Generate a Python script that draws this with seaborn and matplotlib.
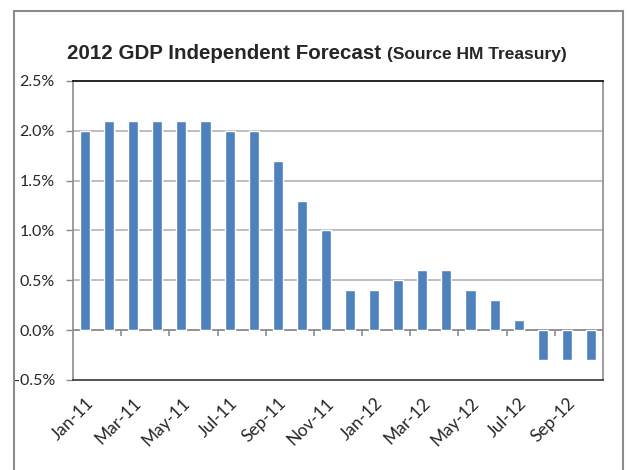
import numpy as np
import pandas as pd
import seaborn as sns
import matplotlib.pyplot as plt
from matplotlib.patches import Rectangle
from matplotlib.ticker import FuncFormatter

# Monthly forecast values (percent)
months = ["Jan-11", "Feb-11", "Mar-11", "Apr-11", "May-11", "Jun-11",
          "Jul-11", "Aug-11", "Sep-11", "Oct-11", "Nov-11", "Dec-11",
          "Jan-12", "Feb-12", "Mar-12", "Apr-12", "May-12", "Jun-12",
          "Jul-12", "Aug-12", "Sep-12", "Oct-12"]
forecast = [2.0, 2.1, 2.1, 2.1, 2.1, 2.1,
            2.0, 2.0, 1.7, 1.3, 1.0, 0.4,
            0.4, 0.5, 0.6, 0.6, 0.4, 0.3,
            0.1, -0.3, -0.3, -0.3]
y_ticks = [-0.5, 0.0, 0.5, 1.0, 1.5, 2.0, 2.5]

df = pd.DataFrame({"month": months, "forecast": forecast})

sns.set_style("white")
plt.rcParams["font.family"] = ["Lato", "DejaVu Sans"]

fig = plt.figure(figsize=(6.32, 4.70), dpi=100)
ax = fig.add_axes([73 / 632, 1 - 380 / 470, 530 / 632, 299 / 470])

sns.barplot(data=df, x="month", y="forecast", order=months, color="#4F81BD",
            saturation=1, width=0.42, ax=ax)

ax.set_xlim(-0.5, len(months) - 0.5)
ax.set_ylim(-0.5, 2.5)
ax.set_yticks(y_ticks)
ax.yaxis.set_major_formatter(FuncFormatter(lambda v, p: f"{v:.1f}%"))
for v in y_ticks[1:-1]:
    ax.axhline(v, color="#b3b3b3", lw=1.2, zorder=0)
ax.axhline(0, color="#8c8c8c", lw=1.2, zorder=0.5)

# tick marks on the zero line between every second month
ax.vlines(np.arange(1.5, len(months), 2), -0.055, 0, color="#8c8c8c", lw=1.2)

shown = list(range(0, len(months), 2))
ax.set_xticks(shown)
ax.set_xticklabels([months[i] for i in shown], rotation=45, ha="right",
                   rotation_mode="anchor", fontsize=12.5)
ax.tick_params(axis="x", length=0, pad=11)
ax.tick_params(axis="y", length=5, width=1, color="#8c8c8c", direction="out",
               labelsize=11.5, pad=8, left=True)
ax.set_xlabel("")
ax.set_ylabel("")

ax.spines["top"].set_color("black")
ax.spines["bottom"].set_color("#333333")
ax.spines["left"].set_color("#8c8c8c")
ax.spines["right"].set_color("#8c8c8c")
for s in ax.spines.values():
    s.set_linewidth(1.2)

# outer chart frame
fig.patches.append(Rectangle((14 / 632, -0.05), 609 / 632, 1.05 - 11 / 470,
                             transform=fig.transFigure, fill=False,
                             edgecolor="#8c8c8c", lw=1.5))


def fit_text(x, y, s, size, target_px):
    t = fig.text(x, y, s, fontsize=size, fontweight="bold",
                 family=["Liberation Sans", "DejaVu Sans"],
                 fontstretch="condensed", va="baseline")
    fig.canvas.draw()
    w = t.get_window_extent().width
    if w > target_px:
        t.set_fontsize(size * target_px / w)
        fig.canvas.draw()
    return t


t1 = fit_text(67 / 632, 1 - 59 / 470, "2012 GDP Independent Forecast", 16, 313)
bb = t1.get_window_extent()
fit_text(bb.x1 / fig.bbox.width + 6 / 632, 1 - 59 / 470,
         "(Source HM Treasury)", 12.5, 181)

fig.savefig("out.png", dpi=100)
